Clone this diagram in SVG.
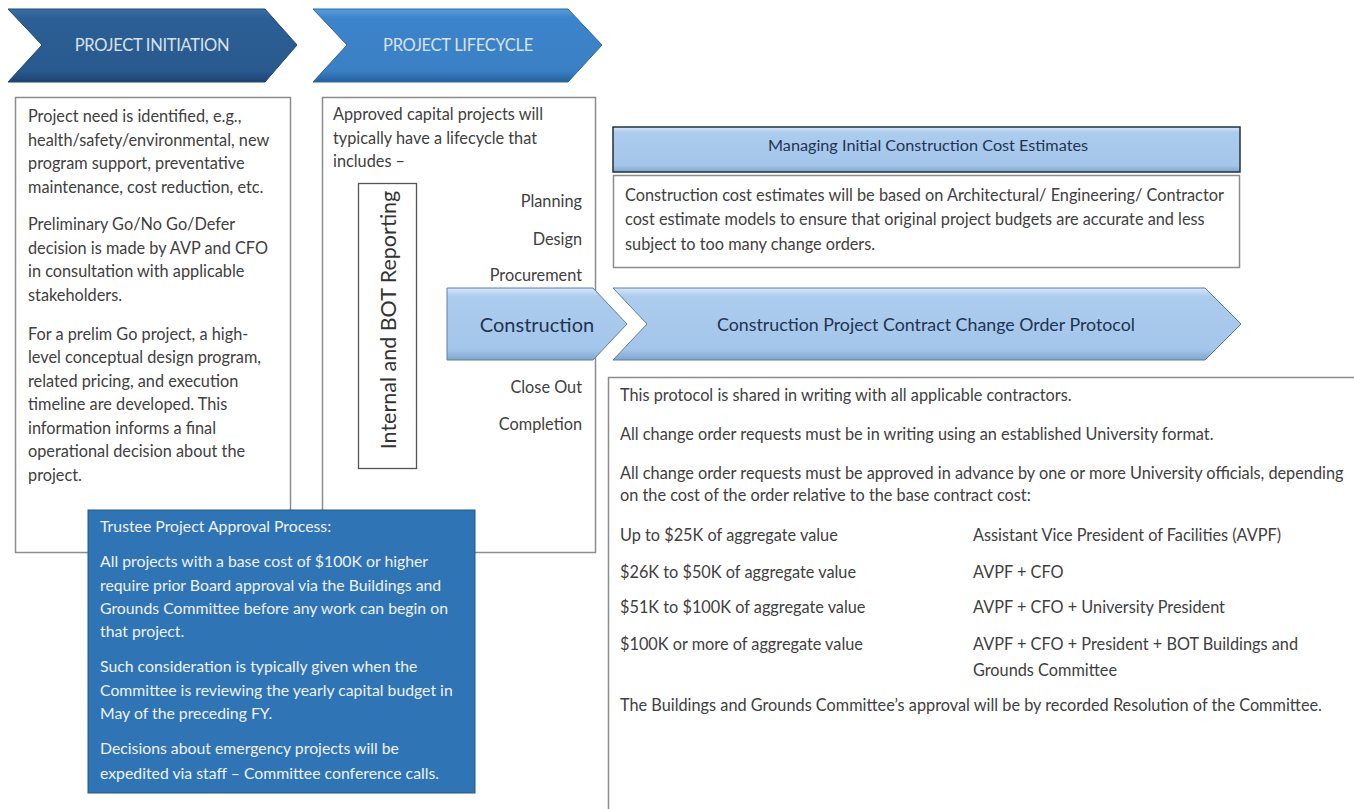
<svg xmlns="http://www.w3.org/2000/svg" width="1354" height="809" viewBox="0 0 1354 809" xml:space="preserve">
<defs>
<linearGradient id="gDark" x1="0" y1="0" x2="0" y2="1">
<stop offset="0" stop-color="#3a70a8"/><stop offset="0.12" stop-color="#2c5f95"/><stop offset="0.85" stop-color="#285a8e"/><stop offset="1" stop-color="#1c4370"/>
</linearGradient>
<linearGradient id="gMid" x1="0" y1="0" x2="0" y2="1">
<stop offset="0" stop-color="#5b9ddd"/><stop offset="0.12" stop-color="#3c84cb"/><stop offset="0.85" stop-color="#3a80c4"/><stop offset="1" stop-color="#24609e"/>
</linearGradient>
<linearGradient id="gLight" x1="0" y1="0" x2="0" y2="1">
<stop offset="0" stop-color="#d6e7f8"/><stop offset="0.12" stop-color="#acccee"/><stop offset="0.85" stop-color="#a4c6ea"/><stop offset="1" stop-color="#7fa6cf"/>
</linearGradient>
<style>
.t{font-family:Lato,"Liberation Sans",sans-serif;font-size:16.3px;fill:#404040}
.w{font-family:Lato,"Liberation Sans",sans-serif;font-size:15.8px;fill:#eef3f9}
.hd{font-family:Lato,"Liberation Sans",sans-serif;font-size:16.5px;fill:#d8e2ee;text-anchor:middle;letter-spacing:-0.3px}
.box{fill:#fff;stroke:#8c8c8c;stroke-width:1.5}
.lt{fill:url(#gLight);stroke:#5f7fa3;stroke-width:1}
.nv{font-family:Lato,"Liberation Sans",sans-serif;fill:#1f3352;text-anchor:middle}
.r{text-anchor:end}
</style>
</defs>
<g id="project-initiation">
<polygon points="8,9 265,9 297,45 265,82 8,82 42,45" fill="url(#gDark)" stroke="#1f4775" stroke-width="1"/>
<text class="hd" x="152" y="51">PROJECT INITIATION</text>
</g>
<g id="project-lifecycle">
<polygon points="313,9 568,9 602,45 568,82 313,82 347,45" fill="url(#gMid)" stroke="#2a67a6" stroke-width="1"/>
<text class="hd" x="458" y="51">PROJECT LIFECYCLE</text>
</g>
<g id="initiation-box">
<rect class="box" x="15.5" y="97.5" width="275" height="455"/>
<text class="t" x="28" y="122">Project need is identified, e.g.,</text>
<text class="t" x="28" y="145.5">health/safety/environmental,  new</text>
<text class="t" x="28" y="169">program support, preventative</text>
<text class="t" x="28" y="192.5">maintenance, cost reduction, etc.</text>
<text class="t" x="28" y="230">Preliminary Go/No Go/Defer</text>
<text class="t" x="28" y="253.5">decision is made by AVP and CFO</text>
<text class="t" x="28" y="277">in consultation with applicable</text>
<text class="t" x="28" y="300.5">stakeholders.</text>
<text class="t" x="28" y="339.5">For a prelim Go project, a high-</text>
<text class="t" x="28" y="363">level conceptual design program,</text>
<text class="t" x="28" y="386.5">related pricing, and execution</text>
<text class="t" x="28" y="410">timeline are developed. This</text>
<text class="t" x="28" y="433.5">information informs a final</text>
<text class="t" x="28" y="457">operational decision about the</text>
<text class="t" x="28" y="480.5">project.</text>
</g>
<g id="lifecycle-box">
<rect class="box" x="322.5" y="97.5" width="273" height="455"/>
<text class="t" x="333" y="120">Approved capital projects will</text>
<text class="t" x="333" y="144">typically have a lifecycle that</text>
<text class="t" x="333" y="167">includes –</text>
<text class="t r" x="582" y="207">Planning</text>
<text class="t r" x="582" y="245">Design</text>
<text class="t r" x="582" y="281">Procurement</text>
<text class="t r" x="582" y="393">Close Out</text>
<text class="t r" x="582" y="430">Completion</text>
</g>
<g id="reporting">
<rect x="358.5" y="183.5" width="58" height="285" fill="#fff" stroke="#555" stroke-width="1.3"/>
<text transform="translate(396,320) rotate(-90)" font-family="Lato,'Liberation Sans',sans-serif" font-size="21.5" fill="#333" text-anchor="middle">Internal and BOT Reporting</text>
</g>
<g id="construction">
<polygon class="lt" points="447,288 593,288 627,324 593,360 447,360"/>
<text class="nv" x="537" y="332" font-size="20">Construction</text>
</g>
<g id="change-order-protocol">
<polygon class="lt" points="613,288 1205,288 1241,324 1205,360 613,360 647,324"/>
<text class="nv" x="926" y="331" font-size="17.5" textLength="418" lengthAdjust="spacingAndGlyphs">Construction Project Contract Change Order Protocol</text>
</g>
<g id="cost-estimates">
<rect x="613" y="127" width="627" height="45" fill="url(#gLight)" stroke="#22303f" stroke-width="1.5"/>
<text class="nv" x="928" y="150.5" font-size="15.5" textLength="320" lengthAdjust="spacingAndGlyphs">Managing  Initial Construction Cost Estimates</text>
<rect class="box" x="613.5" y="175.5" width="626" height="92"/>
<text class="t" x="625" y="201">Construction cost estimates will be based on Architectural/ Engineering/  Contractor</text>
<text class="t" x="625" y="225">cost estimate models to ensure that original project budgets  are accurate and less</text>
<text class="t" x="625" y="250">subject to too many change orders.</text>
</g>
<g id="protocol-box">
<rect class="box" x="608.5" y="377.5" width="770" height="450"/>
<text class="t" x="620" y="401">This protocol is shared in writing with all applicable contractors.</text>
<text class="t" x="620" y="440">All change order requests must be in writing using an established University format.</text>
<text class="t" x="620" y="479">All change order requests must be approved in advance by one or more University officials, depending</text>
<text class="t" x="620" y="501">on the cost of the order relative to the base contract cost:</text>
<text class="t" x="620" y="541">Up to $25K of aggregate value</text>
<text class="t" x="973" y="541">Assistant Vice President of Facilities (AVPF)</text>
<text class="t" x="620" y="578">$26K to $50K of aggregate value</text>
<text class="t" x="973" y="578">AVPF + CFO</text>
<text class="t" x="620" y="613">$51K to $100K of aggregate value</text>
<text class="t" x="973" y="613">AVPF + CFO + University President</text>
<text class="t" x="620" y="650">$100K or more of aggregate value</text>
<text class="t" x="973" y="650">AVPF + CFO + President  + BOT Buildings and</text>
<text class="t" x="973" y="676">Grounds Committee</text>
<text class="t" x="620" y="711">The Buildings and Grounds Committee’s approval will be by recorded Resolution of the Committee.</text>
</g>
<g id="trustee-approval">
<rect x="88" y="510" width="387" height="283" fill="#2f74b5" stroke="#24578a" stroke-width="1"/>
<text class="w" x="100" y="532">Trustee Project Approval Process:</text>
<text class="w" x="100" y="567">All projects with a base cost of $100K or higher</text>
<text class="w" x="100" y="591">require prior Board approval via the Buildings and</text>
<text class="w" x="100" y="614">Grounds Committee before any work can begin on</text>
<text class="w" x="100" y="637">that project.</text>
<text class="w" x="100" y="672">Such consideration is typically given when the</text>
<text class="w" x="100" y="696">Committee is reviewing the yearly capital budget in</text>
<text class="w" x="100" y="719">May of the preceding FY.</text>
<text class="w" x="100" y="754">Decisions about emergency projects will be</text>
<text class="w" x="100" y="779">expedited via staff – Committee conference calls.</text>
</g>
<g id="connectors"></g>
</svg>
